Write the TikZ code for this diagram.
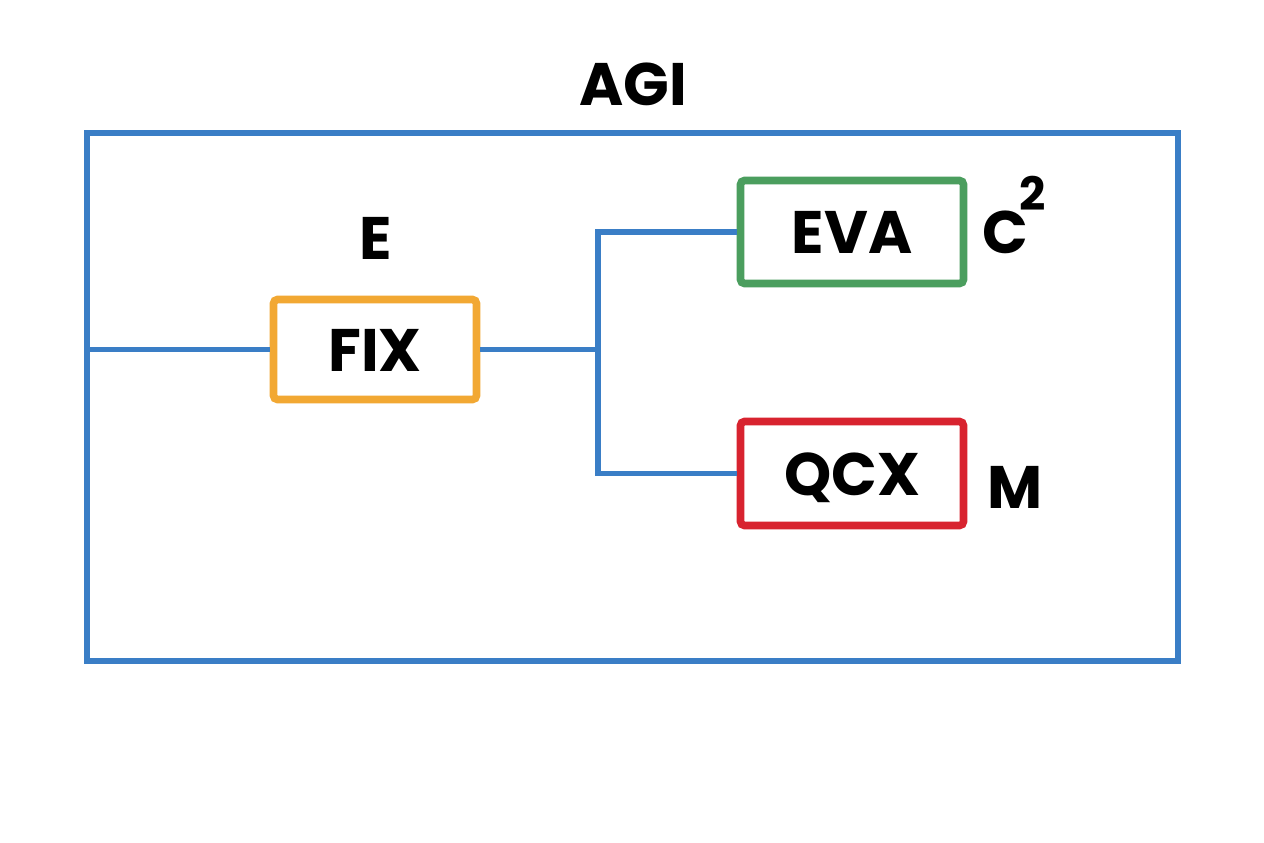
\documentclass[tikz,border=0pt]{standalone}
\usepackage{fontspec}
\setmainfont{Poppins}
\definecolor{lineblue}{HTML}{3A7EC6}
\definecolor{boxorange}{HTML}{F2A833}
\definecolor{boxgreen}{HTML}{4B9E5E}
\definecolor{boxred}{HTML}{D8232F}
\tikzset{
  bigtext/.style={font=\fontsize{30}{36}\selectfont\bfseries, inner sep=0pt},
  blockbox/.style={draw=#1, line width=3.8pt, rounded corners=2pt, fill=white,
    font=\fontsize{30}{36}\selectfont\bfseries, text height=21.5pt, text depth=0pt,
    inner sep=0pt, align=center},
  wire/.style={draw=lineblue, line width=2.6pt},
}
\begin{document}
\begin{tikzpicture}[x=0.5pt,y=-0.5pt]
\useasboundingbox[fill=white] (0,0) rectangle (1264,842);
% outer frame
\draw[wire] (87,133) rectangle (1178,661);
\coordinate (leftin) at (87,349.5);
\coordinate (split) at (598,349.5);
% title and labels
\node[bigtext, anchor=base] (agi) at (633,105) {AGI};
\node[bigtext, anchor=base] (elab) at (376,259) {E};
% boxes
\node[blockbox=boxorange, minimum width=101.5pt, minimum height=50pt] (fix) at (375,349.5) {FIX};
\node[blockbox=boxgreen, minimum width=111.5pt, minimum height=51.5pt] (eva) at (852,232) {EVA};
\node[blockbox=boxred, minimum width=111.5pt, minimum height=52pt] (qcx) at (852,473.5) {QCX};
\node[bigtext, anchor=base west] (clab) at (982,253) {C\kern-4.5pt\raisebox{21.5pt}{\fontsize{23}{26}\selectfont\bfseries 2}};
\node[bigtext, anchor=base west] (mlab) at (987,508) {M};
% connectors
\draw[wire] (leftin) -- (fix.west);
\draw[wire] (fix.east) -- (split);
\draw[wire] (eva.west) -- (598,232) -- (598,473.5) -- (qcx.west);
\end{tikzpicture}
\end{document}
